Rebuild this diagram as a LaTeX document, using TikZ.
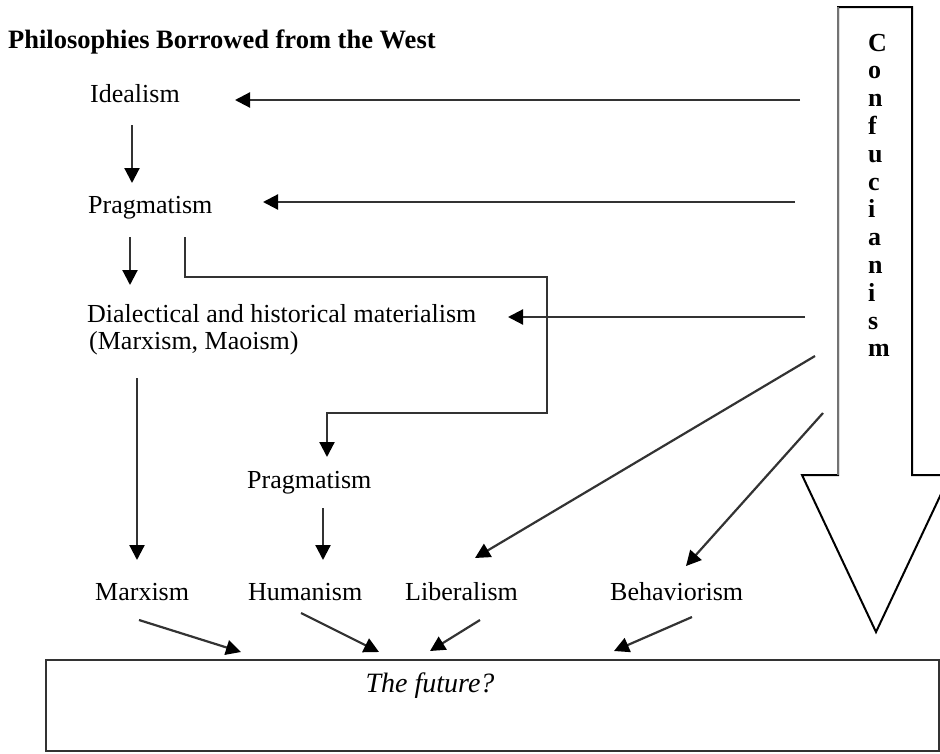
\documentclass[tikz,border=0pt]{standalone}
\usepackage{fontspec}
\setmainfont{Liberation Serif}
\usetikzlibrary{arrows.meta}
\begin{document}
\begin{tikzpicture}[x=1pt,y=-1pt,
  lbl/.style={inner sep=0pt, anchor=base west, font=\fontsize{26}{28}\selectfont},
  arr/.style={draw=black!80, line width=2.2pt, -{Triangle[length=15pt,width=15pt,fill=black,color=black]}},
  bigarrow/.style={draw=black, line width=2pt, line join=miter}]
\useasboundingbox (0,0) rectangle (940,753);
% Confucianism arrow
\draw[bigarrow] (838,7) -- (912,7) -- (912,475) -- (950,475) -- (876,632) -- (802,475) -- (838,475) -- cycle;
\draw[draw=black!55, line width=2.8pt] (838,7) -- (838,475);
\node[inner sep=0pt, anchor=south west, align=left, font=\fontsize{26}{27.8}\selectfont\bfseries] (conf) at (868,357) {C\\o\\n\\f\\u\\c\\i\\a\\n\\i\\s\\m};
% texts
\node[lbl, font=\fontsize{26.5}{28}\selectfont\bfseries] (title) at (8,48) {Philosophies Borrowed from the West};
\node[lbl] (ideal) at (90,102) {Idealism};
\node[lbl] (prag1) at (88,213) {Pragmatism};
\node[lbl] (dial) at (87,322) {Dialectical and historical materialism};
\node[lbl] (dial2) at (89,349) {(Marxism, Maoism)};
\node[lbl] (prag2) at (247,488) {Pragmatism};
\node[lbl] (marx) at (95,600) {Marxism};
\node[lbl] (hum) at (248,600) {Humanism};
\node[lbl] (lib) at (405,600) {Liberalism};
\node[lbl] (beh) at (610,600) {Behaviorism};
% future box
\node[draw=black!80, line width=2pt, rectangle, minimum width=893pt, minimum height=91pt, anchor=north west, inner sep=0pt] (future) at (45,659) {};
\node[inner sep=0pt, anchor=base, font=\fontsize{28}{30}\selectfont\itshape] (futtext) at (430,692) {The future?};
% connector end points
\coordinate (c1) at (800,100); \coordinate (t1) at (235,100);
\coordinate (c2) at (795,202); \coordinate (t2) at (263,202);
\coordinate (c3) at (805,317); \coordinate (t3) at (508,317);
\coordinate (c4) at (815,356); \coordinate (t4) at (475,558);
\coordinate (c5) at (823,413); \coordinate (t5) at (686,566);
\coordinate (d1s) at (132,125); \coordinate (d1e) at (132,183);
\coordinate (d2s) at (130,237); \coordinate (d2e) at (130,285);
\coordinate (e0) at (185,237); \coordinate (e1) at (185,277); \coordinate (e2) at (547,277);
\coordinate (e3) at (547,413); \coordinate (e4) at (327,413); \coordinate (e5) at (327,457);
\coordinate (m1) at (137,378); \coordinate (m2) at (137,560);
\coordinate (p1) at (323,508); \coordinate (p2) at (323,560);
\coordinate (b1s) at (139,620); \coordinate (b1e) at (241,652);
\coordinate (b2s) at (301,613); \coordinate (b2e) at (379,652);
\coordinate (b3s) at (480,620); \coordinate (b3e) at (430,651);
\coordinate (b4s) at (692,617); \coordinate (b4e) at (614,651);
% connectors
\draw[arr] (c1) -- (t1);
\draw[arr] (c2) -- (t2);
\draw[arr] (c3) -- (t3);
\draw[arr] (c4) -- (t4);
\draw[arr] (c5) -- (t5);
\draw[arr] (d1s) -- (d1e);
\draw[arr] (d2s) -- (d2e);
\draw[arr] (e0) -- (e1) -- (e2) -- (e3) -- (e4) -- (e5);
\draw[arr] (m1) -- (m2);
\draw[arr] (p1) -- (p2);
\draw[arr] (b1s) -- (b1e);
\draw[arr] (b2s) -- (b2e);
\draw[arr] (b3s) -- (b3e);
\draw[arr] (b4s) -- (b4e);
\end{tikzpicture}
\end{document}
